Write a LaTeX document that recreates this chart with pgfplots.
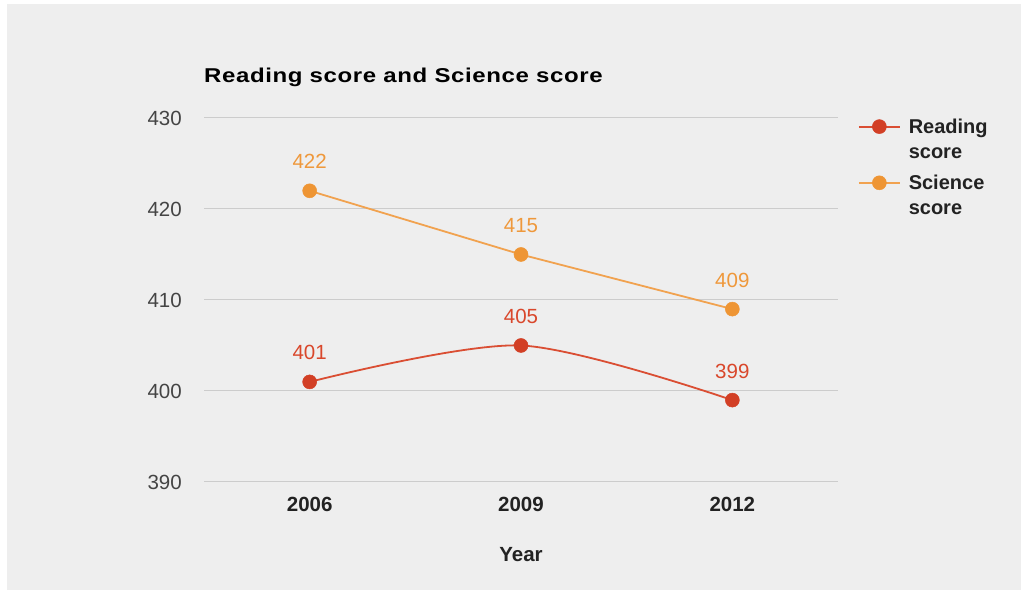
\documentclass[border=0pt]{standalone}
\usepackage{fontspec}
\setmainfont{Liberation Sans}
\newfontfamily\titlefont[FakeStretch=1.2,LetterSpace=3]{Liberation Sans}
\usepackage{pgfplots}
\pgfplotsset{compat=1.18}
\definecolor{bg}{HTML}{EEEEEE}
\definecolor{gridc}{HTML}{CCCCCC}
\definecolor{ticklab}{HTML}{444444}
\definecolor{darktext}{HTML}{222222}
\definecolor{readmark}{HTML}{D23F25}
\definecolor{readline}{HTML}{DA4E33}
\definecolor{readlab}{HTML}{D9472B}
\definecolor{scimark}{HTML}{EE9534}
\definecolor{sciline}{HTML}{F1A24F}
\definecolor{scilab}{HTML}{EE983B}
\begin{document}
\begin{tikzpicture}
\fill[white] (0,0) rectangle (1021pt,591pt);
\fill[bg] (7pt,1pt) rectangle (1021pt,587pt);
\begin{axis}[
  at={(204pt,109pt)}, anchor=south west,
  width=634pt, height=364pt, scale only axis,
  xmin=-0.5, xmax=2.5, ymin=390, ymax=430,
  xtick={0,1,2}, xticklabels={2006,2009,2012},
  ytick={390,400,410,420,430},
  axis line style={draw=none},
  major tick length=0pt,
  ymajorgrids, grid style={gridc, line width=1pt},
  clip=false,
  /pgf/number format/assume math mode=true,
  yticklabel style={font=\fontsize{20.5}{24}\selectfont, text=ticklab, inner sep=0pt, anchor=east, xshift=-22pt},
  xticklabel style={font=\fontsize{20.5}{24}\selectfont\bfseries, text=darktext, inner sep=0pt, anchor=north, yshift=-15pt},
  xlabel={Year},
  every axis x label/.style={at={(axis description cs:0.5,0)}, anchor=north, yshift=-65pt, inner sep=0pt, font=\fontsize{20.5}{24}\selectfont\bfseries, text=darktext},
  title={Reading score and Science score},
  every axis title/.style={at={(axis description cs:0,1)}, anchor=north west, yshift=49.7pt, inner sep=0pt, font=\titlefont\fontsize{20}{24}\selectfont\bfseries, text=black},
  legend style={draw=none, fill=none, at={(axis description cs:1.0315,0.998)}, anchor=north west, inner sep=0pt, outer sep=0pt, row sep=40.2pt, column sep=8pt, nodes={inner sep=0pt, outer sep=0pt}, cells={anchor=base west}, font=\fontsize{20}{25}\selectfont\bfseries, text=darktext},
  legend image code/.code={\draw[mark repeat=2,mark phase=2,#1] plot coordinates {(0pt,6.6pt) (20.5pt,6.6pt) (41pt,6.6pt)};},
  nodes near coords,
  every node near coord/.append style={anchor=center, yshift=29pt, font=\fontsize{20.5}{24}\selectfont},
]
\addplot[color=readline, line width=1.8pt, smooth, mark=*, mark size=7pt,
  mark options={solid, fill=readmark, draw=readmark, line width=0.5pt},
  every node near coord/.append style={text=readlab}]
  coordinates {(0,401) (1,405) (2,399)};
\addlegendentry{\vtop{\baselineskip=25pt\hbox{Reading}\hbox{score}}}
\addplot[color=sciline, line width=1.8pt, mark=*, mark size=7pt,
  mark options={solid, fill=scimark, draw=scimark, line width=0.5pt},
  every node near coord/.append style={text=scilab}]
  coordinates {(0,422) (1,415) (2,409)};
\addlegendentry{\vtop{\baselineskip=25pt\hbox{Science}\hbox{score}}}
\end{axis}
\pgfresetboundingbox
\path (0,0) rectangle (1021pt,591pt);
\end{tikzpicture}
\end{document}
